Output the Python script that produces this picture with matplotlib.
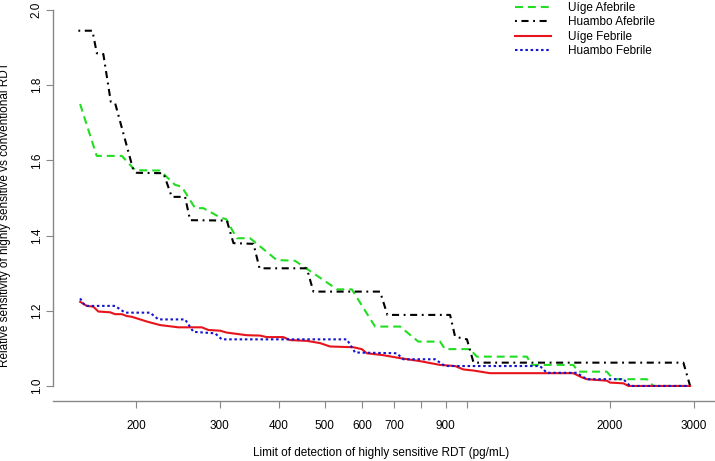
import matplotlib
matplotlib.use('Agg')
from matplotlib import pyplot as plt

plt.rcParams['font.family'] = ['Liberation Sans', 'DejaVu Sans']
plt.rcParams['font.size'] = 8.5

# limit of detection (pg/mL) vs relative sensitivity
uige_afeb_x = [152.4, 165.2, 186.6, 199.0, 224.7, 241.7, 249.7, 266.5, 277.3, 302.3, 309.8, 326.2, 348.0,
               396.1, 432.9, 531.0, 570.4, 638.7, 721.1, 788.1, 875.8, 897.3, 1013, 1047, 1335, 1368,
               1673, 1715, 1969, 2032, 2391, 2469, 2951]
uige_afeb_y = [1.750, 1.612, 1.612, 1.574, 1.573, 1.535, 1.530, 1.473, 1.473, 1.447, 1.444, 1.393, 1.393,
               1.335, 1.333, 1.257, 1.257, 1.158, 1.158, 1.118, 1.118, 1.098, 1.098, 1.078, 1.078, 1.056,
               1.056, 1.038, 1.038, 1.018, 1.018, 1.0, 1.0]

huambo_afeb_x = [151.1, 161.8, 165.3, 170.6, 176.9, 180.6, 197.4, 200.7, 228.5, 237.9, 253.8, 260.0, 310.9,
                 321.0, 353.9, 364.3, 458.4, 473.4, 654.4, 678.1, 919.5, 942.2, 998.1, 1030.6, 2856, 2951]
huambo_afeb_y = [1.945, 1.945, 1.885, 1.883, 1.756, 1.753, 1.574, 1.567, 1.566, 1.503, 1.503, 1.441, 1.440,
                 1.380, 1.378, 1.313, 1.313, 1.251, 1.251, 1.189, 1.189, 1.131, 1.124, 1.062, 1.062, 1.0]

uige_feb_x = [152.4, 157.4, 162.5, 166.5, 176.3, 180.6, 186.6, 191.2, 195.9, 211.3, 224.7, 245.6, 275.2,
              284.1, 300.8, 310.7, 342.4, 365.3, 377.4, 409.0, 422.6, 458.4, 488.9, 513.2, 574.8, 598.7,
              613.4, 663.9, 721.1, 794.8, 875.8, 942.2, 980.6, 1030.6, 1116, 1673, 1743, 1786, 1969,
              2000, 2134, 2186, 2951]
uige_feb_y = [1.224, 1.213, 1.211, 1.198, 1.196, 1.191, 1.191, 1.186, 1.184, 1.171, 1.162, 1.156, 1.156,
              1.149, 1.147, 1.142, 1.135, 1.134, 1.130, 1.130, 1.122, 1.120, 1.114, 1.105, 1.103, 1.098,
              1.087, 1.082, 1.074, 1.066, 1.056, 1.053, 1.044, 1.041, 1.034, 1.034, 1.023, 1.018, 1.014,
              1.009, 1.007, 1.0, 1.0]

huambo_feb_x = [152.4, 156.1, 180.6, 189.6, 214.1, 222.9, 253.8, 264.2, 293.6, 303.3, 556.7, 579.6, 709.6,
                732.8, 855.0, 897.3, 1423, 1471, 1701, 1786, 2134, 2204, 2951]
huambo_feb_y = [1.233, 1.213, 1.213, 1.195, 1.195, 1.177, 1.177, 1.144, 1.140, 1.124, 1.124, 1.089, 1.087,
                1.071, 1.071, 1.053, 1.053, 1.035, 1.035, 1.018, 1.018, 1.0, 1.0]

xticks = [200, 300, 400, 500, 600, 700, 800, 900, 1000, 2000, 3000]
xticklabels = ['200', '300', '400', '500', '600', '700', '', '900', '', '2000', '3000']
yticks = [1.0, 1.2, 1.4, 1.6, 1.8, 2.0]

fig = plt.figure(figsize=(7.15, 4.61), dpi=100)
ax = fig.add_axes([53 / 715, 60 / 461, 671 / 715, 406 / 461])

lw = 1.5
ax.plot(uige_afeb_x, uige_afeb_y, color='#22dd22', lw=lw, dashes=(3.8, 2.4), label='Uíge Afebrile')
ax.plot(huambo_afeb_x, huambo_afeb_y, color='black', lw=lw, dashes=(0.9, 2.2, 3.4, 2.2), label='Huambo Afebrile')
ax.plot(uige_feb_x, uige_feb_y, color='#e8141b', lw=lw, label='Uíge Febrile')
ax.plot(huambo_feb_x, huambo_feb_y, color='#1414d0', lw=lw, dashes=(1.2, 1.3), label='Huambo Febrile')

ax.set_xscale('log')
ax.set_xlim(133.6, 3479)
ax.set_ylim(0.96, 2.04)
ax.set_xticks(xticks)
ax.set_xticklabels(xticklabels)
ax.minorticks_off()
ax.set_yticks(yticks)
ax.set_yticklabels(['%.1f' % v for v in yticks], rotation=90, va='center')

for s in ['top', 'right']:
    ax.spines[s].set_visible(False)
ax.spines['left'].set_bounds(1.0, 2.0)
for s in ['left', 'bottom']:
    ax.spines[s].set_color('#888888')
    ax.spines[s].set_linewidth(1.0)
ax.tick_params(axis='x', length=5, color='#888888', pad=8.5, labelsize=8.5)
ax.tick_params(axis='y', length=5, color='#888888', pad=2.5, labelsize=8.5)

ax.set_xlabel('Limit of detection of highly sensitive RDT (pg/mL)', fontsize=8.5)
ax.set_ylabel('Relative sensitivity of highly sensitive vs conventional RDT', fontsize=8.5)
ax.xaxis.set_label_coords((381 - 53) / 671, (8 - 60) / 406)
ax.yaxis.set_label_coords((5 - 53) / 671, (246 - 60) / 406)
ax.xaxis.label.set_va('center')
ax.yaxis.label.set_va('center')

fig.legend(loc='upper left', bbox_to_anchor=(515 / 715, 1 - 2 / 461), frameon=False, borderpad=0,
           borderaxespad=0, handlelength=3.05, handletextpad=1.4, labelspacing=0.2, fontsize=8.5)

fig.savefig('out.png', dpi=100)
